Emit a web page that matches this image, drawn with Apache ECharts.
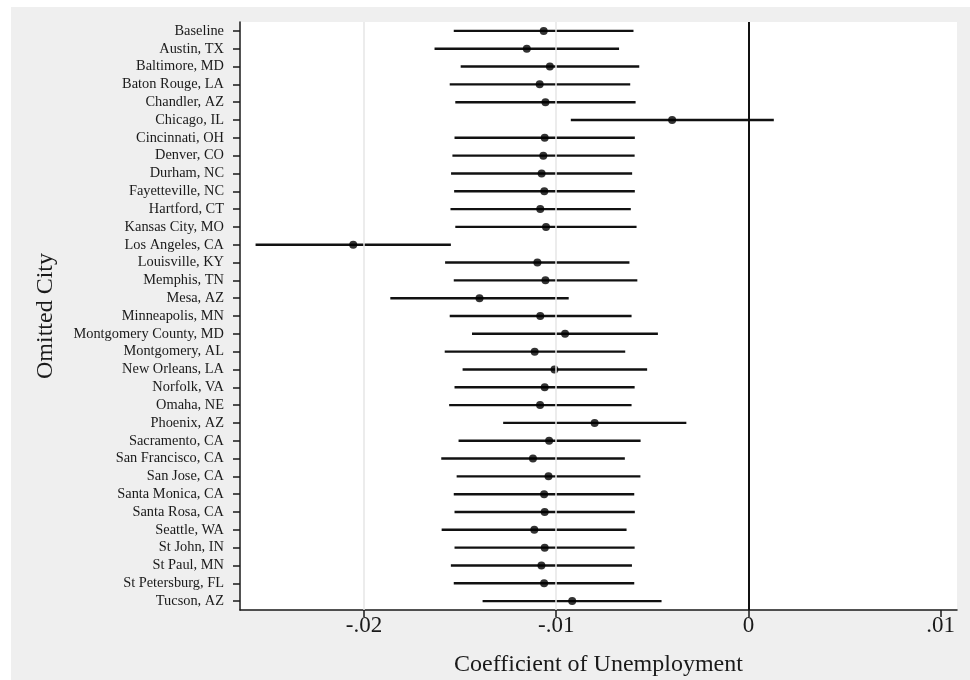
<!DOCTYPE html>
<html>
<head>
<meta charset="utf-8">
<script src="https://cdn.jsdelivr.net/npm/echarts@6/dist/echarts.min.js"></script>
<style>
html,body{margin:0;padding:0;background:#fff;}
#chart{width:970px;height:680px;}
</style>
</head>
<body>
<div id="chart"></div>
<script>
const categories = ['Baseline','Austin, TX','Baltimore, MD','Baton Rouge, LA','Chandler, AZ','Chicago, IL','Cincinnati, OH','Denver, CO','Durham, NC','Fayetteville, NC','Hartford, CT','Kansas City, MO','Los Angeles, CA','Louisville, KY','Memphis, TN','Mesa, AZ','Minneapolis, MN','Montgomery County, MD','Montgomery, AL','New Orleans, LA','Norfolk, VA','Omaha, NE','Phoenix, AZ','Sacramento, CA','San Francisco, CA','San Jose, CA','Santa Monica, CA','Santa Rosa, CA','Seattle, WA','St John, IN','St Paul, MN','St Petersburg, FL','Tucson, AZ'];

const estimates = [-0.01065,-0.01153,-0.01033,-0.01086,-0.01056,-0.00397,-0.01060,-0.01067,-0.01076,-0.01062,-0.01083,-0.01053,-0.02056,-0.01098,-0.01056,-0.01399,-0.01083,-0.00954,-0.01112,-0.01009,-0.01060,-0.01084,-0.00800,-0.01037,-0.01121,-0.01040,-0.01063,-0.01060,-0.01114,-0.01060,-0.01077,-0.01063,-0.00917];

const lower = [-0.01533,-0.01633,-0.01497,-0.01554,-0.01525,-0.00924,-0.01529,-0.01540,-0.01547,-0.01531,-0.01550,-0.01525,-0.02564,-0.01578,-0.01533,-0.01863,-0.01554,-0.01438,-0.01580,-0.01487,-0.01529,-0.01557,-0.01276,-0.01508,-0.01598,-0.01518,-0.01533,-0.01529,-0.01596,-0.01529,-0.01548,-0.01533,-0.01383];

const upper = [-0.00598,-0.00673,-0.00568,-0.00615,-0.00587,0.00132,-0.00591,-0.00592,-0.00605,-0.00591,-0.00612,-0.00582,-0.01548,-0.00619,-0.00578,-0.00935,-0.00608,-0.00471,-0.00641,-0.00527,-0.00592,-0.00608,-0.00323,-0.00561,-0.00643,-0.00562,-0.00594,-0.00591,-0.00634,-0.00592,-0.00606,-0.00594,-0.00452];

const xTickValues = [-0.02, -0.01, 0, 0.01];
const xTickLabels = ['-.02', '-.01', '0', '.01'];
const gridLineValues = [-0.02, -0.01];
const zeroLineValue = 0;

const FONT = "'Liberation Serif', 'Times New Roman', serif";

const chart = echarts.init(document.getElementById('chart'), null, {renderer: 'canvas'});

const option = {
  backgroundColor: '#ffffff',
  animation: false,
  graphic: [{
    type: 'rect', z: -10, silent: true,
    shape: {x: 11, y: 7, width: 959, height: 673},
    style: {fill: '#efefef'}
  }],
  grid: {
    left: 240, right: 13, top: 22, bottom: 70,
    containLabel: false,
    outerBoundsMode: 'none',
    show: true, backgroundColor: '#ffffff', borderWidth: 0
  },
  xAxis: {
    type: 'value',
    min: -0.02645, max: 0.01085,
    name: 'Coefficient of Unemployment',
    nameLocation: 'middle',
    nameGap: 43,
    nameTextStyle: {fontFamily: FONT, fontSize: 24, color: '#1a1a1a'},
    axisLine: {show: true, onZero: false, lineStyle: {color: '#1a1a1a', width: 1.5}},
    axisTick: {show: true, length: 7, lineStyle: {color: '#1a1a1a', width: 1.5}, customValues: xTickValues},
    axisLabel: {
      show: true, margin: 4, fontFamily: FONT, fontSize: 23, color: '#1a1a1a',
      customValues: xTickValues,
      formatter: function (v) {
        for (let i = 0; i < xTickValues.length; i++) {
          if (Math.abs(v - xTickValues[i]) < 1e-9) return xTickLabels[i];
        }
        return '';
      }
    },
    splitLine: {show: false}
  },
  yAxis: {
    type: 'category',
    data: categories,
    inverse: true,
    boundaryGap: true,
    name: 'Omitted City',
    nameLocation: 'middle',
    nameRotate: 90,
    nameGap: 182,
    nameTextStyle: {fontFamily: FONT, fontSize: 24, color: '#1a1a1a'},
    axisLine: {show: true, onZero: false, lineStyle: {color: '#1a1a1a', width: 1.5}},
    axisTick: {show: true, alignWithLabel: true, length: 7, lineStyle: {color: '#1a1a1a', width: 1.5}},
    axisLabel: {show: true, interval: 0, margin: 16, fontFamily: FONT, fontSize: 14.4, color: '#1a1a1a'},
    splitLine: {show: false}
  },
  series: [
    {
      type: 'line', data: [], z: 1, silent: true,
      markLine: {
        silent: true, symbol: 'none', animation: false,
        label: {show: false},
        data: gridLineValues.map(v => ({xAxis: v, lineStyle: {color: '#e6e6e6', width: 1.5, type: 'solid'}}))
          .concat([{xAxis: zeroLineValue, lineStyle: {color: '#111111', width: 2, type: 'solid'}}])
      }
    },
    {
      type: 'custom', z: 2, silent: true,
      data: categories.map((c, i) => [lower[i], upper[i], i]),
      encode: {x: [0, 1], y: 2},
      renderItem: function (params, api) {
        const y = api.value(2);
        const p1 = api.coord([api.value(0), y]);
        const p2 = api.coord([api.value(1), y]);
        return {
          type: 'line',
          shape: {x1: p1[0], y1: p1[1], x2: p2[0], y2: p2[1]},
          style: {stroke: '#111111', lineWidth: 2.4}
        };
      }
    },
    {
      type: 'scatter', z: 3, silent: true,
      symbol: 'circle', symbolSize: 8,
      itemStyle: {color: '#000000'},
      data: estimates.map((v, i) => [v, i])
    }
  ]
};
chart.setOption(option);
</script>
</body>
</html>
